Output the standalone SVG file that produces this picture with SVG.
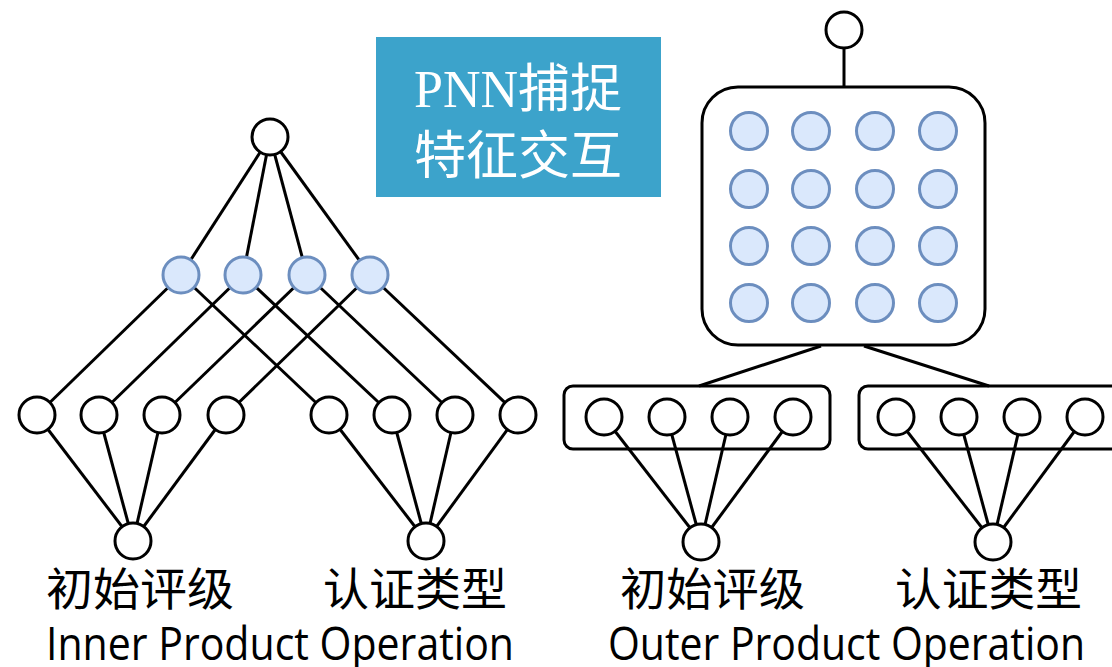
<svg xmlns="http://www.w3.org/2000/svg" width="1112" height="667" viewBox="0 0 1112 667">
<style>
.n{fill:#fff;stroke:#000;stroke-width:3}
.b{fill:#dae8fc;stroke:#6c8ebf;stroke-width:3}
.box{fill:#fff;stroke:#000;stroke-width:3}
.c line{stroke:#000;stroke-width:3}
.lab{font-family:"Noto Sans CJK SC",sans-serif;font-size:45px;fill:#000}
.en{font-family:"Open Sans","Noto Sans",sans-serif;font-size:45px;fill:#000}
.t{font-family:"Liberation Serif","Noto Sans CJK SC",serif;font-size:52px;fill:#fff}
</style>
<rect id="title-bg" x="376" y="37" width="285" height="160" fill="#3ca3cb"/>
<g id="title">
<text class="t" x="518" y="107" text-anchor="middle">PNN捕捉</text>
<text class="t" x="518" y="174" text-anchor="middle">特征交互</text>
</g>
<g id="outer-matrix"><rect class="box" x="702" y="87" width="283" height="258" rx="36"/></g>
<g id="outer-vec1"><rect class="box" x="564" y="386" width="266" height="63" rx="9"/></g>
<g id="outer-vec2"><rect class="box" x="859" y="386" width="263" height="63" rx="9"/></g>
<g id="connectors" class="c">
<line x1="270" y1="137" x2="181" y2="275"/>
<line x1="270" y1="137" x2="243" y2="275"/>
<line x1="270" y1="137" x2="307" y2="275"/>
<line x1="270" y1="137" x2="370" y2="275"/>
<line x1="181" y1="275" x2="37" y2="415"/>
<line x1="181" y1="275" x2="329" y2="415"/>
<line x1="243" y1="275" x2="99" y2="415"/>
<line x1="243" y1="275" x2="392" y2="415"/>
<line x1="307" y1="275" x2="162" y2="415"/>
<line x1="307" y1="275" x2="455" y2="415"/>
<line x1="370" y1="275" x2="226" y2="415"/>
<line x1="370" y1="275" x2="518" y2="415"/>
<line x1="37" y1="415" x2="133" y2="541"/>
<line x1="99" y1="415" x2="133" y2="541"/>
<line x1="162" y1="415" x2="133" y2="541"/>
<line x1="226" y1="415" x2="133" y2="541"/>
<line x1="329" y1="415" x2="426" y2="541"/>
<line x1="392" y1="415" x2="426" y2="541"/>
<line x1="455" y1="415" x2="426" y2="541"/>
<line x1="518" y1="415" x2="426" y2="541"/>
<line x1="844" y1="30" x2="844" y2="87"/>
<line x1="821" y1="346" x2="699" y2="386"/>
<line x1="864" y1="346" x2="989" y2="386"/>
<line x1="604" y1="417" x2="701" y2="542"/>
<line x1="667" y1="417" x2="701" y2="542"/>
<line x1="730" y1="417" x2="701" y2="542"/>
<line x1="793" y1="417" x2="701" y2="542"/>
<line x1="896" y1="417" x2="993" y2="542"/>
<line x1="959" y1="417" x2="993" y2="542"/>
<line x1="1022" y1="417" x2="993" y2="542"/>
<line x1="1085" y1="417" x2="993" y2="542"/>
</g>
<g id="inner-out"><circle class="n" cx="270" cy="137" r="18"/></g>
<g id="inner-products">
<circle class="b" cx="181" cy="275" r="18"/><circle class="b" cx="243" cy="275" r="18"/><circle class="b" cx="307" cy="275" r="18"/><circle class="b" cx="370" cy="275" r="18"/>
</g>
<g id="inner-emb1">
<circle class="n" cx="37" cy="415" r="18"/><circle class="n" cx="99" cy="415" r="18"/><circle class="n" cx="162" cy="415" r="18"/><circle class="n" cx="226" cy="415" r="18"/>
</g>
<g id="inner-emb2">
<circle class="n" cx="329" cy="415" r="18"/><circle class="n" cx="392" cy="415" r="18"/><circle class="n" cx="455" cy="415" r="18"/><circle class="n" cx="518" cy="415" r="18"/>
</g>
<g id="inner-f1"><circle class="n" cx="133" cy="541" r="18"/></g>
<g id="inner-f2"><circle class="n" cx="426" cy="541" r="18"/></g>
<g id="outer-out"><circle class="n" cx="844" cy="30" r="18"/></g>
<g id="outer-products">
<circle class="b" cx="749" cy="131" r="18.5"/><circle class="b" cx="811" cy="131" r="18.5"/><circle class="b" cx="875" cy="131" r="18.5"/><circle class="b" cx="938" cy="131" r="18.5"/>
<circle class="b" cx="749" cy="189" r="18.5"/><circle class="b" cx="811" cy="189" r="18.5"/><circle class="b" cx="875" cy="189" r="18.5"/><circle class="b" cx="938" cy="189" r="18.5"/>
<circle class="b" cx="749" cy="246" r="18.5"/><circle class="b" cx="811" cy="246" r="18.5"/><circle class="b" cx="875" cy="246" r="18.5"/><circle class="b" cx="938" cy="246" r="18.5"/>
<circle class="b" cx="749" cy="303" r="18.5"/><circle class="b" cx="811" cy="303" r="18.5"/><circle class="b" cx="875" cy="303" r="18.5"/><circle class="b" cx="938" cy="303" r="18.5"/>
</g>
<g id="outer-emb1">
<circle class="n" cx="604" cy="417" r="18"/><circle class="n" cx="667" cy="417" r="18"/><circle class="n" cx="730" cy="417" r="18"/><circle class="n" cx="793" cy="417" r="18"/>
</g>
<g id="outer-emb2">
<circle class="n" cx="896" cy="417" r="18"/><circle class="n" cx="959" cy="417" r="18"/><circle class="n" cx="1022" cy="417" r="18"/><circle class="n" cx="1085" cy="417" r="18"/>
</g>
<g id="outer-f1"><circle class="n" cx="701" cy="542" r="18"/></g>
<g id="outer-f2"><circle class="n" cx="993" cy="542" r="18"/></g>
<g id="labels">
<text class="lab" x="46" y="606" textLength="188" lengthAdjust="spacingAndGlyphs">初始评级</text>
<text class="lab" x="323" y="606" textLength="184" lengthAdjust="spacingAndGlyphs">认证类型</text>
<text class="lab" x="620" y="606" textLength="185" lengthAdjust="spacingAndGlyphs">初始评级</text>
<text class="lab" x="895" y="606" textLength="187" lengthAdjust="spacingAndGlyphs">认证类型</text>
<text class="en" x="46" y="660" textLength="468" lengthAdjust="spacingAndGlyphs">Inner Product Operation</text>
<text class="en" x="608" y="660" textLength="477" lengthAdjust="spacingAndGlyphs">Outer Product Operation</text>
</g>
</svg>
